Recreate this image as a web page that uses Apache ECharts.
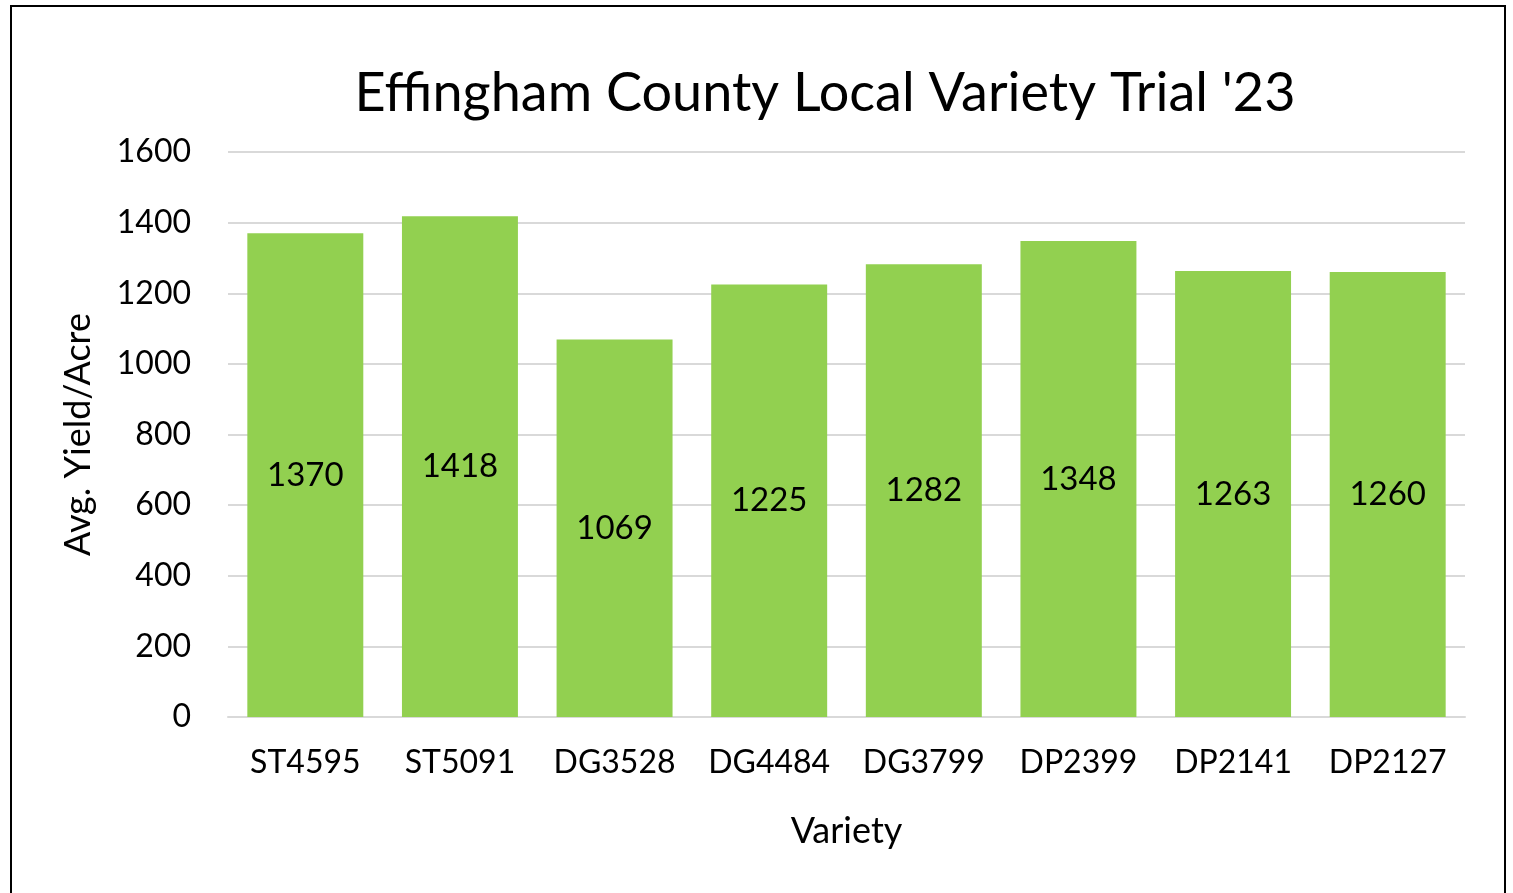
<!DOCTYPE html>
<html>
<head>
<meta charset="utf-8">
<script src="https://cdn.jsdelivr.net/npm/echarts@6/dist/echarts.min.js"></script>
<style>
  html, body { margin: 0; padding: 0; background: #fff; }
  #chart { width: 1513px; height: 893px; }
  .frame {
    position: absolute; left: 10px; top: 5px; width: 1492px; height: 900px;
    border: 2px solid #000; pointer-events: none;
  }
</style>
</head>
<body>
<div id="chart"></div>
<div class="frame"></div>
<script>
const varieties = ['ST4595', 'ST5091', 'DG3528', 'DG4484', 'DG3799', 'DP2399', 'DP2141', 'DP2127']
const yields = [1370, 1418, 1069, 1225, 1282, 1348, 1263, 1260]
const yTicks = { min: 0, max: 1600, interval: 200 }

const font = 'Lato, "Open Sans", sans-serif'
const chart = echarts.init(document.getElementById('chart'))
const option = {
  backgroundColor: '#fff',
  textStyle: { fontFamily: font },
  title: {
    text: "Effingham County Local Variety Trial '23",
    left: 820,
    top: 62,
    textAlign: 'center',
    textStyle: { fontFamily: font, fontSize: 54, fontWeight: 'normal', color: '#000' }
  },
  grid: { left: 228, right: 48, top: 152, bottom: 176 },
  xAxis: {
    type: 'category',
    data: varieties,
    name: 'Variety',
    nameLocation: 'middle',
    nameGap: 96,
    nameTextStyle: { fontFamily: font, fontSize: 36, color: '#000' },
    axisLine: { lineStyle: { color: '#d9d9d9', width: 2 } },
    axisTick: { show: false },
    axisLabel: { interval: 0, margin: 30, fontFamily: font, fontSize: 32, color: '#000' }
  },
  yAxis: {
    type: 'value',
    min: yTicks.min,
    max: yTicks.max,
    interval: yTicks.interval,
    name: 'Avg. Yield/Acre',
    nameLocation: 'middle',
    nameGap: 132,
    nameTextStyle: { fontFamily: font, fontSize: 36, color: '#000' },
    axisLine: { show: false },
    axisTick: { show: false },
    axisLabel: { margin: 37, fontFamily: font, fontSize: 32, color: '#000', formatter: v => String(v) },
    splitLine: { lineStyle: { color: '#d9d9d9', width: 2 } }
  },
  series: [
    {
      type: 'bar',
      data: yields,
      barCategoryGap: '25%',
      itemStyle: { color: '#92d050' },
      label: {
        show: true,
        position: 'inside',
        fontFamily: font,
        fontSize: 33,
        color: '#000'
      }
    }
  ]
}
chart.setOption(option)
</script>
</body>
</html>
